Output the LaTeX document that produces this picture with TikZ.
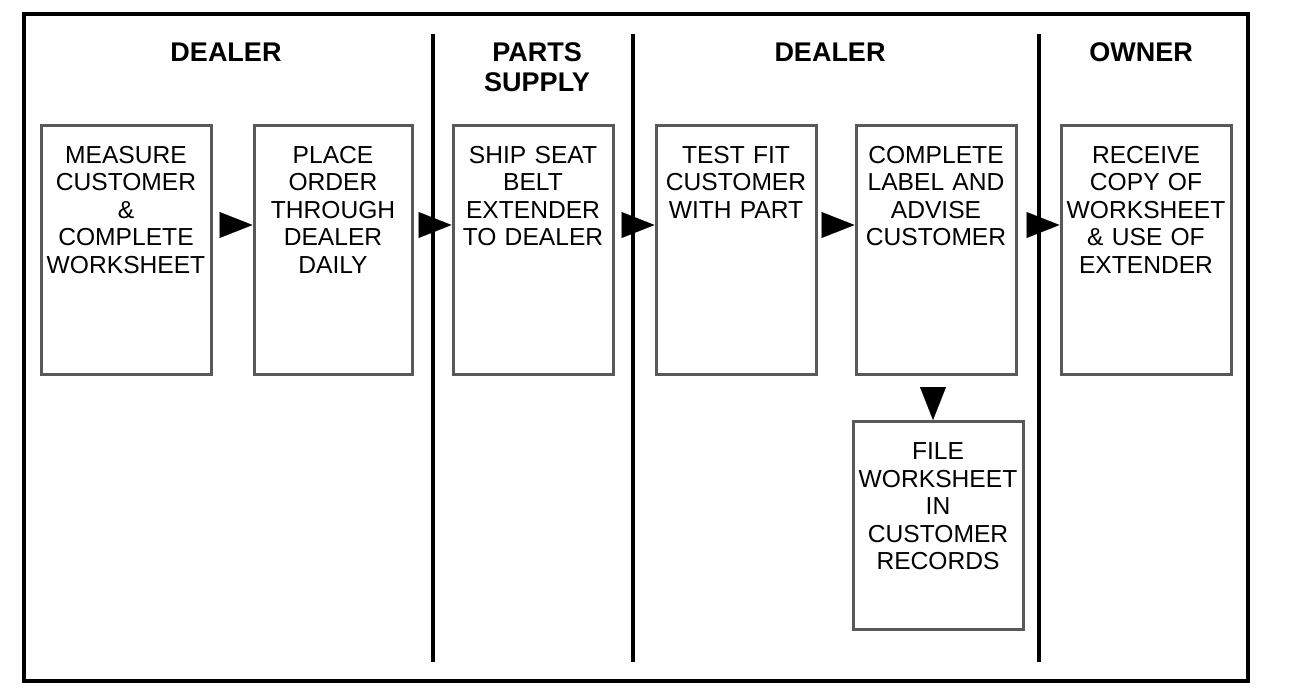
\documentclass[tikz,border=0pt]{standalone}
\usepackage{fontspec}
\setmainfont{Liberation Sans}
\usetikzlibrary{arrows.meta}

\begin{document}
\begin{tikzpicture}[
    x = 0.5pt, y = -0.5pt,
    frame/.style   = {line width=2pt},
    lane/.style    = {line width=1.6pt},
    heading/.style = {font=\bfseries\fontsize{13.5}{15}\selectfont,
      text width=70pt, align=center, anchor=base, inner sep=0pt},
    task/.style    = {draw=black!65, line width=1.5pt, anchor=north,
      font=\fontsize{12.3}{13.75}\selectfont, align=center,
      inner xsep=2pt, inner ysep=10pt, text height=9pt, text depth=95.5pt},
    flow/.style    = {-{Triangle[length=16.5pt, width=13pt]},
      line width=0.1pt, shorten <=6pt}
  ]
  \useasboundingbox (0,0) rectangle (1312,700);
  \draw[frame] (24,14) rectangle (1248,681);
  \foreach \x in {433,633,1039}
    \draw[lane] (\x,34) -- (\x,662);

  \node[heading] (dealerA) at (226,62)  {DEALER};
  \node[heading] (parts)   at (537,62)  {PARTS\\SUPPLY};
  \node[heading] (dealerB) at (830,62)  {DEALER};
  \node[heading] (owner)   at (1141,62) {OWNER};

  \node[task, text width=81pt] (measure) at (126,124)
    {MEASURE\\CUSTOMER\\\&\\COMPLETE\\WORKSHEET};
  \node[task, text width=75pt] (order) at (333,124)
    {PLACE\\ORDER\\THROUGH\\DEALER\\DAILY};
  \node[task, text width=76pt] (ship) at (533,124)
    {SHIP SEAT\\BELT\\EXTENDER\\TO DEALER};
  \node[task, text width=76pt] (fit) at (736,124)
    {TEST FIT\\CUSTOMER\\WITH PART};
  \node[task, text width=76pt] (advise) at (936,124)
    {COMPLETE\\LABEL AND\\ADVISE\\CUSTOMER};
  \node[task, text width=81pt] (receive) at (1146,124)
    {RECEIVE\\COPY OF\\WORKSHEET\\\& USE OF\\EXTENDER};
  \node[task, text width=81pt, text depth=75pt] (records) at (938,420)
    {FILE\\WORKSHEET\\IN\\CUSTOMER\\RECORDS};

  \draw[flow] ([yshift=12.5pt]measure.east) -- ([yshift=12.5pt]order.west);
  \draw[flow] ([yshift=12.5pt]order.east)   -- ([yshift=12.5pt]ship.west);
  \draw[flow] ([yshift=12.5pt]ship.east)    -- ([yshift=12.5pt]fit.west);
  \draw[flow] ([yshift=12.5pt]fit.east)     -- ([yshift=12.5pt]advise.west);
  \draw[flow] ([yshift=12.5pt]advise.east)  -- ([yshift=12.5pt]receive.west);
  \draw[flow] ([xshift=-1.5pt]advise.south) -- ([xshift=-1.5pt]advise.south |- records.north);
\end{tikzpicture}
\end{document}
